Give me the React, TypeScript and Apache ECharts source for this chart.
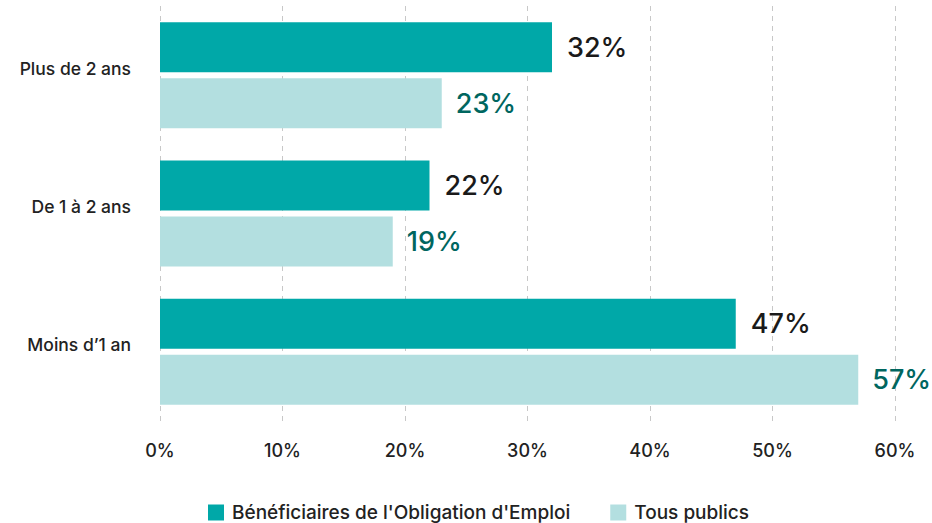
import React, { useEffect, useRef } from "react";
import * as echarts from "echarts";

const categories = ["Plus de 2 ans", "De 1 à 2 ans", "Moins d’1 an"];
const beneficiaires = [32, 22, 47];
const tousPublics = [23, 19, 57];
const xTicks = [0, 10, 20, 30, 40, 50, 60];

const FONT = "Inter, 'Noto Sans', sans-serif";

export default function App() {
  const ref = useRef<HTMLDivElement>(null);
  useEffect(() => {
    const chart = echarts.init(ref.current!, null, { renderer: "svg" });
    chart.setOption({
      animation: false,
      textStyle: { fontFamily: FONT },
      grid: { left: 160, right: 37, top: 6, bottom: 102, containLabel: false },
      legend: {
        top: 498,
        left: 203,
        itemWidth: 16,
        itemHeight: 16,
        itemGap: 40,
        icon: "rect",
        textStyle: {
          fontSize: 19,
          lineHeight: 18,
          color: "#222",
          fontFamily: FONT,
          fontWeight: 500,
          padding: [0, 0, 0, 3],
        },
        data: ["Bénéficiaires de l'Obligation d'Emploi", "Tous publics"],
      },
      xAxis: {
        type: "value",
        min: xTicks[0],
        max: xTicks[xTicks.length - 1],
        interval: 10,
        axisLine: { show: false },
        axisTick: { show: false },
        splitLine: { show: true, lineStyle: { type: [5, 5], color: "#c8c8c8", width: 1 } },
        axisLabel: {
          formatter: "{value}%",
          fontSize: 18,
          color: "#222",
          margin: 20,
          fontFamily: FONT,
          fontWeight: 500,
        },
      },
      yAxis: {
        type: "category",
        data: categories,
        inverse: true,
        axisLine: { show: false },
        axisTick: { show: false },
        axisLabel: {
          fontSize: 17.5,
          color: "#222",
          margin: 29,
          fontFamily: FONT,
          fontWeight: 500,
          verticalAlign: "bottom",
          lineHeight: 14,
        },
      },
      series: [
        {
          name: "Bénéficiaires de l'Obligation d'Emploi",
          type: "bar",
          data: beneficiaires,
          barWidth: 50,
          barGap: "12%",
          itemStyle: { color: "#00A8A8" },
          label: {
            show: true,
            position: "right",
            distance: 15,
            formatter: "{c}%",
            fontSize: 27,
            color: "#1a1a1a",
            fontFamily: FONT,
            fontWeight: 500,
          },
        },
        {
          name: "Tous publics",
          type: "bar",
          data: tousPublics,
          barWidth: 50,
          barGap: "12%",
          itemStyle: { color: "#B3DFE0" },
          label: {
            show: true,
            position: "right",
            distance: 14,
            formatter: "{c}%",
            fontSize: 27,
            color: "#00665F",
            fontFamily: FONT,
            fontWeight: 500,
          },
        },
      ],
    });
    return () => chart.dispose();
  }, []);
  return <div ref={ref} style={{ width: 932, height: 523, position: "absolute", left: 0, top: 0 }} />;
}
